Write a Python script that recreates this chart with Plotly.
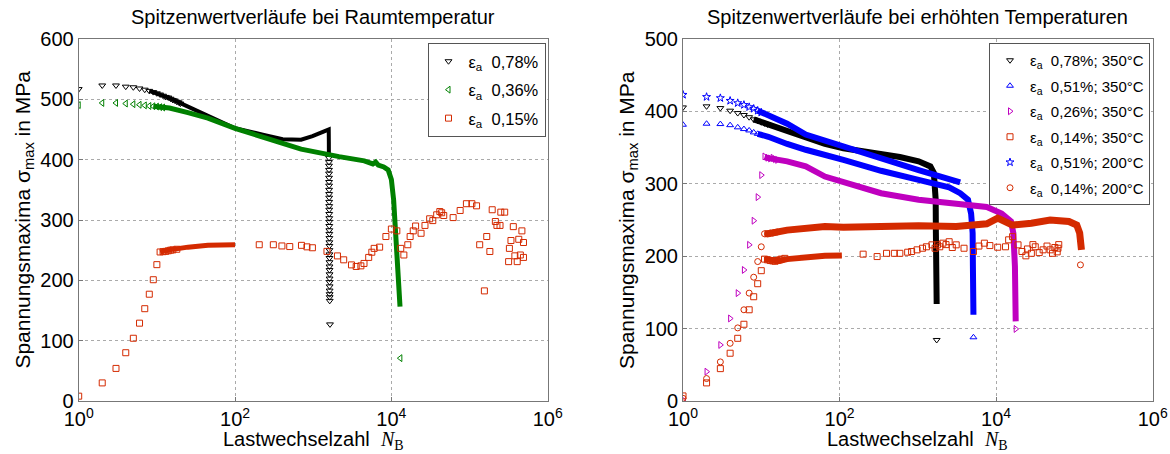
import plotly.graph_objects as go

# ---------------- Left panel: room temperature ----------------
# eps_a 0.78 %
l78_sparse_N = [1, 2, 3, 4, 5, 6, 7, 8, 9, 10, 11, 12, 13, 14, 15, 16, 17, 18, 19, 20]
l78_sparse_S = [517, 523, 523, 521, 520, 518, 516, 514, 512, 510, 508, 506, 504, 503, 501, 499, 498, 496, 495, 493]
l78_dense_N = [8, 14.5, 25, 45, 78, 100, 234, 407, 700, 980, 1380, 1580, 1585, 1588]
l78_dense_S = [514, 502, 488, 472, 458, 452, 441, 434, 433, 439, 447, 450, 430, 405]
l78_drop_N = [1590, 1591, 1592, 1593, 1594, 1595, 1596, 1597, 1598, 1599, 1600, 1601, 1602, 1603, 1604,
              1605, 1606, 1607, 1608, 1609, 1610, 1611, 1612, 1613, 1614, 1615, 1616, 1617, 1618, 1619,
              1620, 1621, 1622, 1623, 1624, 1625, 1626, 1640]
l78_drop_S = [403, 396, 390, 383, 377, 370, 363, 357, 350, 343, 337, 330, 323, 317, 310,
              303, 297, 290, 283, 277, 270, 263, 257, 250, 243, 237, 230, 223, 217, 210,
              203, 197, 190, 183, 177, 172, 166, 127]

# eps_a 0.36 %
l36_sparse_N = [1, 2, 3, 4, 5, 6, 7, 8, 9, 10, 11, 12, 13030]
l36_sparse_S = [490.5, 494, 494, 493, 492, 491, 490, 489, 488.5, 488, 487, 486.5, 71]
l36_dense_N = [9, 14.5, 25, 45, 100, 234, 700, 2140, 4500, 5800, 6300, 6800, 8000, 9100, 10000, 10700,
               11200, 12300, 12900]
l36_dense_S = [488.5, 485.5, 478, 469, 452, 436, 417.5, 405, 398, 393, 396, 391, 388, 383, 367, 333,
               289, 223, 156.5]

# eps_a 0.15 %
l15_sparse_N = [1, 2, 3, 4, 5, 6, 7, 8, 9, 10, 11, 12, 13, 14, 15, 16, 18,
                204, 309, 398, 501, 708, 832, 977, 1500, 2042, 2455, 3090, 3548, 4074, 4467, 5129,
                5623, 6026, 7079, 8511, 10000, 11750, 13180, 14450, 16220, 17380, 19050, 20420,
                23990, 26920, 30900, 33880, 38020, 41690, 44000, 46770, 61660, 75860, 91200, 107200,
                123000, 134900, 154900, 166000, 182000, 195000, 214000, 224000, 245500, 251200,
                281800, 316200, 323600, 338800, 363100, 380200, 407400, 426600, 446700, 467700,
                489800, 489800]
l15_sparse_S = [8, 30, 54, 80, 104, 129, 153, 177, 201, 226, 247, 247.5, 248, 249, 250, 250.5, 251.5,
                259, 259, 257, 256, 258, 255.5, 254, 248, 240.5, 234, 225.6, 223, 224, 228, 238,
                246.6, 253, 255, 272.6, 285, 282, 253, 242, 259, 272.6, 282, 290,
                278, 291, 302, 299, 308.6, 314, 312, 307.5, 304, 315.8, 327, 327,
                323.5, 259, 182.5, 272.6, 247.8, 317, 297.5, 291, 291, 313,
                313, 231, 253, 266, 289, 240.6, 231, 268, 242, 282,
                262.7, 238]
l15_dense_N = [11, 14.5, 25, 45, 100]
l15_dense_S = [247, 250.5, 255, 258, 259]

# ---------------- Right panel: elevated temperatures ----------------
r78_sparse_N = [1, 2, 3, 4, 5, 6, 7, 8, 9, 10, 11, 12, 1740]
r78_sparse_S = [405.5, 407, 404.6, 401, 397.7, 395, 392, 389, 387, 385, 383.5, 382, 84.3]
r78_dense_N = [8, 12.3, 21.4, 37, 65, 112, 339, 589, 1023, 1445, 1600, 1660, 1690, 1700, 1720, 1740]
r78_dense_S = [389, 381.6, 372, 363, 355, 349, 341.5, 337, 331, 324, 315, 300, 278, 232, 186, 134]

r51_sparse_N = [1, 2, 3, 4, 5, 6, 7, 8, 9, 10, 5130]
r51_sparse_S = [381.6, 383, 382.5, 381, 378, 375.6, 373.7, 371, 369, 367.5, 88]
r51_dense_N = [9, 12.3, 21.4, 37, 112, 339, 1023, 2510, 3470, 4370, 4790, 5010, 5050, 5130]
r51_dense_S = [369, 365, 355, 347, 333, 318, 305.5, 295, 287, 278, 259, 232, 186, 119]

r26_sparse_N = [1, 2, 3, 4, 5, 6, 7, 8, 9, 10, 11, 12, 13, 14, 15, 16, 17780]
r26_sparse_S = [1.5, 40.5, 77.4, 114, 149, 181, 215.7, 249, 281.6, 312, 337.8, 336, 335, 336, 334, 333, 99.5]
r26_dense_N = [11, 12.3, 21.4, 37, 65, 112, 195, 339, 1023, 3090, 7590, 11750, 15490, 16600, 17380, 17780]
r26_dense_S = [337, 335.5, 331, 324, 310, 303, 294, 287, 278, 272, 268, 259, 248, 232, 186, 110]

r14_sparse_N = [1, 2, 3, 4, 5, 6, 7, 8, 9, 10, 11, 12, 13, 14, 15, 16, 17, 18, 20,
                200, 302, 398, 501, 589, 741, 832, 977, 1148, 1288, 1514, 1660, 1778, 1905, 2089,
                2291, 2512, 2754, 3090, 3890, 5129, 6026, 7079, 8318, 10470, 13180, 14450, 16220,
                19050, 21380, 23990, 25120, 28180, 29510, 31620, 35480, 39810, 44670, 48980, 52480,
                56230, 60260, 61660, 63100]
r14_sparse_S = [7, 25, 44.7, 66, 86.6, 106, 126, 144, 162, 180, 196, 195, 194, 193.5, 193, 194, 195, 196, 197,
                202.8, 199.5, 204, 204, 204, 205.5, 206.5, 208.8, 211, 213, 215.7, 211, 215.7, 213, 218,
                216, 220, 212, 215.7, 211, 206.5, 214, 218, 214.7, 212.4, 213, 222.6, 227,
                215.7, 206.5, 200.5, 210, 204, 216, 213, 205, 208.8, 214, 208.8, 204,
                212, 206, 211, 216]
r14_dense_N = [11, 17, 21.4, 37, 65, 107]
r14_dense_S = [196, 193.5, 196, 198.6, 200.5, 201]

r51s_sparse_N = [1, 2, 3, 4, 5, 6, 7, 8, 9, 10]
r51s_sparse_S = [423, 420, 418.4, 414.7, 411.5, 409, 406, 403.7, 401, 398.5]
r51s_dense_N = [9, 12.3, 21.4, 37, 112, 339, 1023, 3470]
r51s_dense_S = [401, 395, 383, 368, 351.6, 334, 319, 302]

r14c_sparse_N = [1, 2, 3, 4, 5, 6, 7, 8, 9, 10, 11, 12, 13, 14, 15, 16, 119400]
r14c_sparse_S = [3.7, 31, 54, 79.7, 101, 126, 149, 171, 192.6, 213, 231, 231, 232, 232, 233, 233.5, 188]
r14c_dense_N = [11, 12.3, 21.4, 37, 65, 112, 339, 1023, 3090, 7590, 10470, 13180, 16220, 28180, 48980,
                85100, 107200, 116700, 123000]
r14c_dense_S = [231, 231, 236, 239.6, 241, 240, 242, 242, 241, 244.7, 252.5, 246.5, 243, 245.6, 250,
                248, 243, 232, 208.8]

# ---------------- text ----------------
title_left = "Spitzenwertverläufe bei Raumtemperatur"
title_right = "Spitzenwertverläufe bei erhöhten Temperaturen"
x_title = "Lastwechselzahl  <span style=\"font-family:'Liberation Serif'\"><i>N</i><sub>B</sub></span>"
y_title = "Spannungsmaxima σ<sub>max</sub> in MPa"
x_tickvals = [1, 100, 10000, 1000000]
x_ticktext = ["10<sup>0</sup>", "10<sup>2</sup>", "10<sup>4</sup>", "10<sup>6</sup>"]

BLACK = "#000000"
GREEN = "#008000"
RED = "#d42a00"
BLUE = "#0000ff"
MAG = "#bf00bf"

FONT = "Liberation Sans, Arial, sans-serif"
fig = go.Figure()


def add_series(name, spN, spS, dN, dS, color, symbol, xa, ya, legend, lw, msize=6):
    grp = legend + name
    if dN:
        fig.add_trace(go.Scatter(x=dN, y=dS, mode="lines", line=dict(color=color, width=lw),
                                 xaxis=xa, yaxis=ya, showlegend=False, hoverinfo="skip",
                                 legend=legend, legendgroup=grp))
    fig.add_trace(go.Scatter(x=spN, y=spS, mode="markers", name=name,
                             marker=dict(symbol=symbol, size=msize, color=color,
                                         line=dict(color=color, width=1)),
                             xaxis=xa, yaxis=ya, legend=legend, legendgroup=grp))


sp2 = "\u00a0\u00a0"
# left
add_series("ε<sub>a</sub>" + sp2 + "0,78%", l78_sparse_N, l78_sparse_S, l78_dense_N, l78_dense_S,
           BLACK, "triangle-down-open", "x", "y", "legend", 4)
fig.add_trace(go.Scatter(x=l78_drop_N, y=l78_drop_S, mode="markers",
                         marker=dict(symbol="triangle-down-open", size=6, color=BLACK,
                                     line=dict(color=BLACK, width=1)),
                         xaxis="x", yaxis="y", showlegend=False, legend="legend"))
add_series("ε<sub>a</sub>" + sp2 + "0,36%", l36_sparse_N, l36_sparse_S, l36_dense_N, l36_dense_S,
           GREEN, "triangle-left-open", "x", "y", "legend", 5)
add_series("ε<sub>a</sub>" + sp2 + "0,15%", l15_sparse_N, l15_sparse_S, l15_dense_N, l15_dense_S,
           RED, "square-open", "x", "y", "legend", 5)

# right
add_series("ε<sub>a</sub>" + sp2 + "0,78%; 350°C", r78_sparse_N, r78_sparse_S, r78_dense_N, r78_dense_S,
           BLACK, "triangle-down-open", "x2", "y2", "legend2", 6)
add_series("ε<sub>a</sub>" + sp2 + "0,51%; 350°C", r51_sparse_N, r51_sparse_S, r51_dense_N, r51_dense_S,
           BLUE, "triangle-up-open", "x2", "y2", "legend2", 6)
add_series("ε<sub>a</sub>" + sp2 + "0,26%; 350°C", r26_sparse_N, r26_sparse_S, r26_dense_N, r26_dense_S,
           MAG, "triangle-right-open", "x2", "y2", "legend2", 6)
add_series("ε<sub>a</sub>" + sp2 + "0,14%; 350°C", r14_sparse_N, r14_sparse_S, r14_dense_N, r14_dense_S,
           RED, "square-open", "x2", "y2", "legend2", 6)
add_series("ε<sub>a</sub>" + sp2 + "0,51%; 200°C", r51s_sparse_N, r51s_sparse_S, r51s_dense_N, r51s_dense_S,
           BLUE, "star-open", "x2", "y2", "legend2", 6)
add_series("ε<sub>a</sub>" + sp2 + "0,14%; 200°C", r14c_sparse_N, r14c_sparse_S, r14c_dense_N, r14c_dense_S,
           RED, "circle-open", "x2", "y2", "legend2", 7)

W, H = 1170, 454
T, B = 39, 53
axis_common = dict(showline=True, linecolor="#777777", linewidth=1, mirror=True,
                   showgrid=True, gridcolor="#aaaaaa", griddash="dot", gridwidth=1,
                   ticks="inside", ticklen=4, tickcolor="#777777", zeroline=False,
                   automargin=False,
                   tickfont=dict(family=FONT, size=20, color="#000000"))

fig.update_layout(
    width=W, height=H,
    margin=dict(l=0, r=0, t=T, b=B, autoexpand=False),
    paper_bgcolor="white", plot_bgcolor="white",
    font=dict(family=FONT, color="#000000"),
    xaxis=dict(type="log", range=[0, 6], domain=[78.7 / W, 547.7 / W], tickvals=x_tickvals,
               ticktext=x_ticktext, anchor="y", **axis_common),
    yaxis=dict(range=[0, 600], dtick=100, domain=[0, 1], anchor="x", **axis_common),
    xaxis2=dict(type="log", range=[0, 6], domain=[683 / W, 1152.7 / W], tickvals=x_tickvals,
                ticktext=x_ticktext, anchor="y2", **axis_common),
    yaxis2=dict(range=[0, 500], dtick=100, domain=[0, 1], anchor="x2", **axis_common),
    legend=dict(x=545.5 / W, xanchor="right", y=1 - 4 / 362, yanchor="top",
                bgcolor="white", bordercolor="#555555", borderwidth=1,
                font=dict(family=FONT, size=16.5), itemwidth=30,
                traceorder="grouped", tracegroupgap=4),
    legend2=dict(x=1150 / W, xanchor="right", y=1 - 4 / 362, yanchor="top",
                 bgcolor="white", bordercolor="#555555", borderwidth=1,
                 font=dict(family=FONT, size=15), itemwidth=30,
                 traceorder="grouped", tracegroupgap=3),
    showlegend=True,
)

ph = H - T - B
annos = [
    dict(text=title_left, x=(78.7 + 547.7) / 2 / W, y=1 + (T - 17) / ph, font=dict(size=20)),
    dict(text=title_right, x=(683 + 1152.7) / 2 / W, y=1 + (T - 17) / ph, font=dict(size=20)),
    dict(text=x_title, x=(78.7 + 547.7) / 2 / W, y=(401 - 440) / ph, font=dict(size=20)),
    dict(text=x_title, x=(683 + 1152.7) / 2 / W, y=(401 - 440) / ph, font=dict(size=20)),
    dict(text=y_title, x=23.6 / W, y=0.5, textangle=-90, font=dict(size=21)),
    dict(text=y_title, x=628 / W, y=0.5, textangle=-90, font=dict(size=21)),
]
for a in annos:
    a.update(xref="paper", yref="paper", showarrow=False, xanchor="center", yanchor="middle")
    a["font"].update(family=FONT, color="#000000")
    fig.add_annotation(**a)

fig.write_html("out.html", config={"displayModeBar": False},
               post_script="document.body.style.margin='0';document.body.style.overflow='hidden';")
